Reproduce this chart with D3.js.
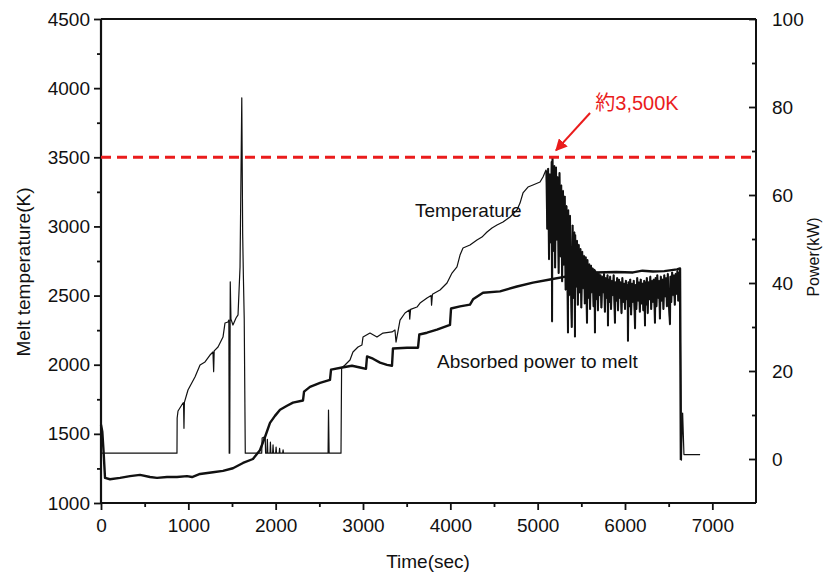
<!DOCTYPE html>
<html><head><meta charset="utf-8">
<script src="https://cdn.jsdelivr.net/npm/d3@7"></script>
<style>
body{margin:0;background:#fff}
svg{display:block}
text{font-family:"Liberation Sans",Arial,"Noto Sans CJK JP",sans-serif}
</style>
</head><body>
<svg id="c" width="827" height="574"></svg>
<script>
// ---------- data ----------
const timeTicks = [0,1000,2000,3000,4000,5000,6000,7000];
const timeMinor = [500,1500,2500,3500,4500,5500,6500];
const tempTicks = [1000,1500,2000,2500,3000,3500,4000,4500];
const tempMinor = [1250,1750,2250,2750,3250,3750,4250];
const powerTicks = [0,20,40,60,80,100];
const powerMinor = [10,30,50,70,90];

// Melt temperature (K) vs time (s)
const temperature = [
[0,1360],[870,1360],[872,1615],[882,1665],[939,1723],[945,1725],[950,1540],[955,1728],[996,1817],[1076,1911],
[1134,1998],[1191,2020],[1248,2070],[1282,2092],[1290,1950],[1296,2100],[1340,2128],[1397,2200],[1420,2302],
[1454,2309],[1464,2323],[1468,1360],[1474,1360],[1480,2600],[1488,2330],[1511,2287],[1546,2338],[1569,2360],
[1592,2707],[1600,3200],[1612,3930],[1622,2950],[1630,2650],[1640,2330],[1652,1360],
[1840,1360],[1845,1470],[1880,1480],[1885,1360],[1900,1360],[1905,1460],[1910,1360],[1935,1360],[1940,1440],
[1945,1360],[1965,1360],[1970,1420],[1975,1360],[2000,1360],[2005,1405],[2010,1360],[2040,1360],[2045,1395],
[2050,1360],[2080,1360],[2085,1385],[2090,1360],
[2600,1360],[2605,1672],[2612,1360],[2748,1360],[2755,1976],
[2794,1998],[2851,2034],[2885,2092],[2943,2128],[2988,2143],[3000,2200],[3080,2229],[3160,2200],[3229,2229],
[3332,2237],[3366,2251],[3378,2164],[3424,2323],[3481,2374],[3530,2396],[3535,2330],[3545,2400],[3618,2417],
[3653,2446],[3733,2482],[3780,2500],[3785,2430],[3795,2510],[3882,2540],[3962,2591],[4019,2663],[4076,2707],
[4111,2793],[4145,2844],[4225,2866],[4305,2902],[4362,2923],[4420,2960],[4477,2989],[4534,3010],[4603,3032],
[4683,3068],[4763,3119],[4798,3169],[4832,3242],[4889,3285],[4946,3300],[5027,3321],[5061,3357],[5095,3408],
[5100,3400],[5110,2980],[5120,3420],[5130,2760],[5140,3380],[5150,2880],[5160,3470],[5165,2310],[5170,3500],
[5180,2820],[5190,3440],[5200,2700],[5210,3430],[5220,2900],[5230,3360],[5240,2660],[5250,3390],[5260,2780],
[5270,3300],[5280,2600],[5290,3260],[5300,2720],[5310,3220],[5320,2540],[5330,3150],[5340,2650],[5347,2230],
[5350,3120],[5360,2500],[5370,3080],[5380,2620],[5390,2270],[5400,3010],[5410,2480],[5420,2960],[5427,2200],
[5430,2940],[5440,2560],[5450,2900],[5460,2430],[5470,2870],[5480,2520],[5490,2840],[5500,2410],[5510,2820],
[5520,2550],[5530,2790],[5540,2440],[5550,2780],[5565,2300],[5570,2760],[5580,2480],[5590,2730],[5600,2400],
[5610,2720],[5620,2520],[5630,2700],[5640,2420],[5650,2690],[5656,2230],[5660,2680],[5670,2470],[5680,2670],
[5690,2390],[5700,2660],[5710,2500],[5720,2650],[5730,2410],[5740,2640],[5750,2520],[5760,2660],[5770,2380],
[5780,2630],[5790,2480],[5800,2650],[5805,2280],[5810,2620],[5820,2450],[5830,2640],[5840,2400],[5850,2610],
[5860,2500],[5870,2650],[5885,2300],[5890,2600],[5900,2460],[5910,2630],[5920,2390],[5930,2620],[5940,2480],
[5950,2600],[5960,2370],[5970,2630],[5980,2450],[5990,2590],[6000,2400],[6010,2610],[6020,2470],[6030,2580],
[6034,2170],[6040,2600],[6050,2420],[6060,2620],[6070,2360],[6080,2590],[6090,2450],[6100,2610],[6115,2260],
[6120,2580],[6130,2400],[6140,2630],[6150,2460],[6160,2600],[6170,2380],[6180,2620],[6190,2440],[6200,2590],
[6210,2390],[6220,2610],[6229,2280],[6230,2600],[6240,2430],[6250,2630],[6260,2370],[6270,2600],[6280,2470],
[6290,2640],[6300,2400],[6310,2610],[6320,2450],[6330,2620],[6343,2300],[6350,2630],[6360,2420],[6370,2650],
[6380,2480],[6390,2610],[6400,2330],[6410,2640],[6420,2460],[6430,2620],[6440,2400],[6450,2650],[6460,2490],
[6470,2630],[6480,2420],[6490,2660],[6500,2470],[6515,2290],[6520,2640],[6530,2450],[6540,2670],[6550,2500],
[6560,2650],[6570,2430],[6580,2660],[6590,2510],[6600,2680],[6610,2460],[6620,2670],[6630,2520],
[6645,1310],[6660,1650],[6675,1350],[6860,1350]
];

// Absorbed power to melt (kW) vs time (s)
const power = [
[0,7.8],[15,6.2],[30,1.5],[46,-4.3],[103,-4.6],[218,-4.3],[332,-3.9],[447,-3.6],[561,-4.1],[641,-4.3],
[756,-4.1],[870,-4.1],[985,-3.9],[1042,-4.1],[1134,-3.4],[1282,-3.0],[1397,-2.7],[1511,-2.1],[1626,-0.9],
[1740,0],[1820,2.0],[1878,5.0],[1935,8.2],[1992,9.8],[2050,11.2],[2130,12.1],[2198,12.8],[2313,13.3],
[2325,15.3],[2393,16.4],[2508,17.3],[2622,18.0],[2634,20.3],[2760,20.8],[2874,21.2],[2966,20.8],[3034,20.5],
[3046,23.3],[3114,22.8],[3195,21.9],[3275,21.4],[3332,21.2],[3343,25.1],[3504,25.3],[3630,25.3],[3645,28.3],
[3733,28.7],[3847,29.4],[3996,30.5],[4008,34.2],[4111,34.7],[4225,35.1],[4260,36.3],[4374,37.8],[4569,38.1],
[4763,39.2],[4946,40.1],[5141,40.8],[5336,41.5],[5656,42.4],[5900,42.5],[6092,42.4],[6200,42.8],[6321,42.6],
[6450,42.7],[6595,43.1],[6630,43.3],[6640,-0.2]
];

const noisyRange = [5100, 6630];
const refTemp = 3500;
const annoText = "約3,500K";
const annoTip = [5210, 3550];
const annoTail = [5600, 3820];
const annoLabel = [5660, 3845];

// ---------- scales ----------
const svg = d3.select("#c");
const x = d3.scaleLinear().domain([0,7500]).range([101,756]);
const yT = d3.scaleLinear().domain([1000,4500]).range([503,19]);
const yP = d3.scaleLinear().domain([-10,100]).range([503,19]);
const FS = 19;

// ---------- axes ----------
function styleAxis(g){
  g.selectAll(".domain").remove();
  g.selectAll("line").attr("stroke","#111").attr("stroke-width",1.8);
  g.selectAll("text").attr("fill","#111").attr("font-size",FS).attr("font-family",'"Liberation Sans",Arial,sans-serif');
}
svg.append("g").attr("transform","translate(101,0)")
  .call(d3.axisLeft(yT).tickValues(tempTicks).tickSizeInner(7).tickSizeOuter(0).tickPadding(4).tickFormat(d3.format("d")))
  .call(styleAxis);
svg.append("g").attr("transform","translate(101,0)")
  .call(d3.axisLeft(yT).tickValues(tempMinor).tickSizeInner(4).tickSizeOuter(0).tickFormat(""))
  .call(styleAxis);
svg.append("g").attr("transform","translate(0,503)")
  .call(d3.axisBottom(x).tickValues(timeTicks).tickSizeInner(7).tickSizeOuter(0).tickPadding(9).tickFormat(d3.format("d")))
  .call(styleAxis);
svg.append("g").attr("transform","translate(0,503)")
  .call(d3.axisBottom(x).tickValues(timeMinor).tickSizeInner(4).tickSizeOuter(0).tickFormat(""))
  .call(styleAxis);
svg.append("g").attr("transform","translate(756,0)")
  .call(d3.axisRight(yP).tickValues(powerTicks).tickSizeInner(-7).tickSizeOuter(0).tickPadding(16).tickFormat(d3.format("d")))
  .call(styleAxis);
svg.append("g").attr("transform","translate(756,0)")
  .call(d3.axisRight(yP).tickValues(powerMinor).tickSizeInner(-4).tickSizeOuter(0).tickFormat(""))
  .call(styleAxis);

// frame
const frame = svg.append("g").attr("stroke","#111").attr("fill","none");
frame.append("line").attr("x1",x(0)).attr("x2",x(0)).attr("y1",yT(4500)).attr("y2",yT(1000)).attr("stroke-width",2.2);
frame.append("line").attr("x1",x(0)).attr("x2",x(7500)).attr("y1",yT(1000)).attr("y2",yT(1000)).attr("stroke-width",2);
frame.append("line").attr("x1",x(7500)).attr("x2",x(7500)).attr("y1",yT(4500)).attr("y2",yT(1000)).attr("stroke-width",2);
frame.append("line").attr("x1",x(0)).attr("x2",x(7500)).attr("y1",yT(4500)).attr("y2",yT(4500)).attr("stroke-width",1.8);

// ---------- series ----------
const lineT = d3.line().x(d=>x(d[0])).y(d=>yT(d[1]));
const lineP = d3.line().x(d=>x(d[0])).y(d=>yP(d[1]));
svg.append("path").datum(power).attr("d",lineP).attr("fill","none")
  .attr("stroke","#111").attr("stroke-width",2.4).attr("stroke-linejoin","round");
svg.append("path").datum(temperature).attr("d",lineT).attr("fill","none")
  .attr("stroke","#111").attr("stroke-width",1.2).attr("stroke-linejoin","round");
// denser look of the oscillating part (same data, heavier stroke)
svg.append("path").datum(temperature.filter(d=>d[0]>=noisyRange[0] && d[0]<=noisyRange[1]))
  .attr("d",lineT).attr("fill","none")
  .attr("stroke","#111").attr("stroke-width",2).attr("stroke-linejoin","miter").attr("stroke-miterlimit",2);

// ---------- labels ----------
svg.append("text").attr("x",415).attr("y",217).attr("font-size",FS).attr("fill","#111").text("Temperature");
svg.append("text").attr("x",437).attr("y",368).attr("font-size",FS).attr("fill","#111").text("Absorbed power to melt");
svg.append("text").attr("x",428).attr("y",568).attr("text-anchor","middle").attr("font-size",FS).attr("fill","#111").text("Time(sec)");
svg.append("text").attr("transform","translate(30,272) rotate(-90)").attr("text-anchor","middle")
  .attr("font-size",FS).attr("fill","#111").text("Melt temperature(K)");
svg.append("text").attr("transform","translate(819,257) rotate(-90)").attr("text-anchor","middle")
  .attr("font-size",16).attr("fill","#111").text("Power(kW)");

// ---------- reference line & annotation ----------
const red = "#ea1c1c";
svg.append("line").attr("x1",x(0)).attr("x2",x(7500)).attr("y1",yT(refTemp)).attr("y2",yT(refTemp))
  .attr("stroke",red).attr("stroke-width",3).attr("stroke-dasharray","10,6");
svg.append("defs").append("marker").attr("id","ah").attr("viewBox","0 0 10 10").attr("refX",9).attr("refY",5)
  .attr("markerWidth",6).attr("markerHeight",6).attr("orient","auto")
  .append("path").attr("d","M0,0 L10,5 L0,10 z").attr("fill",red);
svg.append("line").attr("x1",x(annoTail[0])).attr("y1",yT(annoTail[1]))
  .attr("x2",x(annoTip[0])).attr("y2",yT(annoTip[1]))
  .attr("stroke",red).attr("stroke-width",2).attr("marker-end","url(#ah)");
svg.append("text").attr("x",x(annoLabel[0])).attr("y",yT(annoLabel[1])).attr("font-size",20).attr("fill",red)
  .text(annoText);
</script>
</body></html>
